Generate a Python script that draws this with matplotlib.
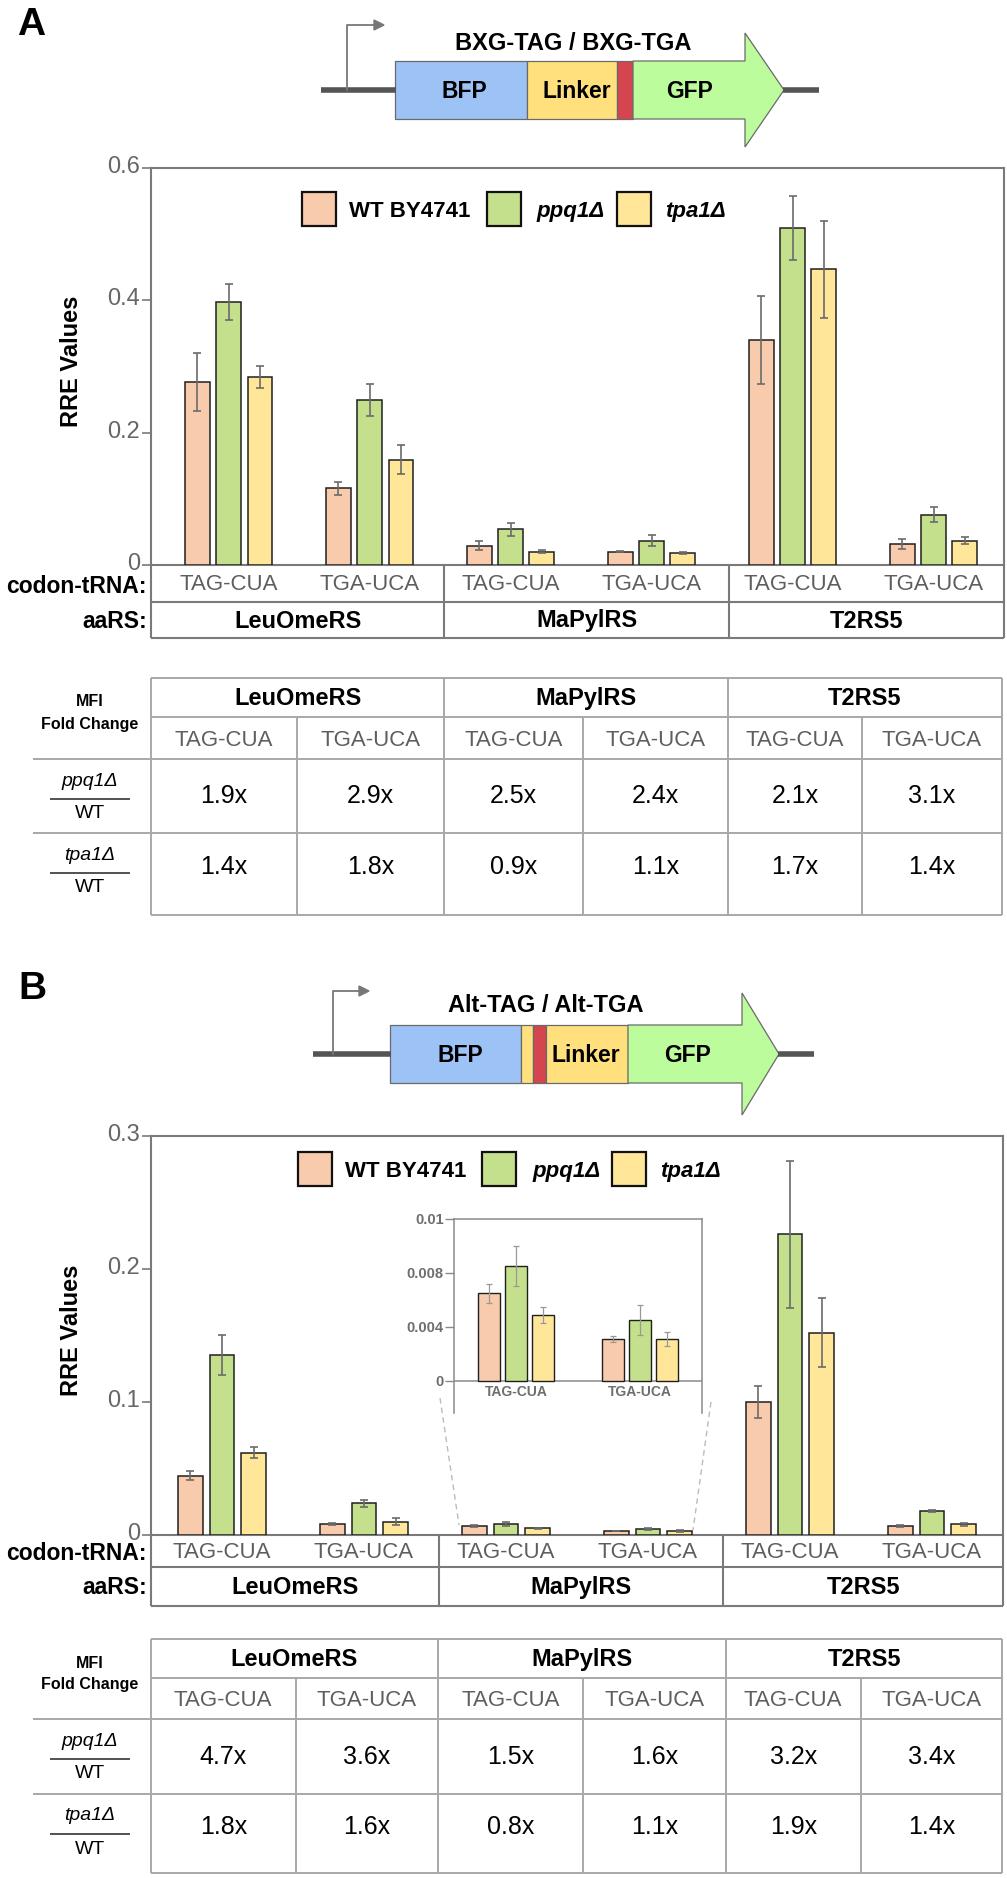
import numpy as np
import matplotlib
matplotlib.use('Agg')
import matplotlib.pyplot as plt
from matplotlib.patches import Rectangle, Polygon
from matplotlib.transforms import blended_transform_factory, ScaledTranslation

plt.rcParams['font.family'] = ['Liberation Sans', 'DejaVu Sans']

strains = ['WT BY4741', 'ppq1Δ', 'tpa1Δ']
colors = ['#F8CBAD', '#C5E08C', '#FFE699']
codons = ['TAG-CUA', 'TGA-UCA', 'TAG-CUA', 'TGA-UCA', 'TAG-CUA', 'TGA-UCA']
synthetases = ['LeuOmeRS', 'MaPylRS', 'T2RS5']

# panel A (BXG-TAG / BXG-TGA) RRE values
a_wt = [0.276, 0.116, 0.029, 0.020, 0.340, 0.032]
a_wt_err = [0.044, 0.010, 0.007, 0.001, 0.066, 0.008]
a_ppq1 = [0.397, 0.249, 0.054, 0.037, 0.509, 0.076]
a_ppq1_err = [0.027, 0.024, 0.010, 0.008, 0.048, 0.011]
a_tpa1 = [0.284, 0.159, 0.020, 0.018, 0.447, 0.037]
a_tpa1_err = [0.017, 0.022, 0.002, 0.002, 0.073, 0.005]

# panel B (Alt-TAG / Alt-TGA) RRE values
b_wt = [0.0446, 0.0083, 0.0065, 0.0031, 0.100, 0.0070]
b_wt_err = [0.0035, 0.0005, 0.0007, 0.00025, 0.012, 0.0008]
b_ppq1 = [0.1355, 0.0238, 0.0085, 0.0045, 0.226, 0.0183]
b_ppq1_err = [0.015, 0.0025, 0.0015, 0.0011, 0.055, 0.0008]
b_tpa1 = [0.062, 0.010, 0.0049, 0.0031, 0.152, 0.0080]
b_tpa1_err = [0.004, 0.0025, 0.0006, 0.0005, 0.026, 0.0010]

# MFI fold change tables
a_fold_ppq1 = [1.9, 2.9, 2.5, 2.4, 2.1, 3.1]
a_fold_tpa1 = [1.4, 1.8, 0.9, 1.1, 1.7, 1.4]
b_fold_ppq1 = [4.7, 3.6, 1.5, 1.6, 3.2, 3.4]
b_fold_tpa1 = [1.8, 1.6, 0.8, 1.1, 1.9, 1.4]

W, H = 1007, 1878
fig = plt.figure(figsize=(W / 100, H / 100), dpi=100)
ov = fig.add_axes([0, 0, 1, 1])
ov.set_xlim(0, W)
ov.set_ylim(H, 0)
ov.axis('off')

FRAME = '#7a7a7a'
GRID = '#a8a8a8'
GRAY_TXT = '#5e5e5e'
lift = ScaledTranslation(0, 0.035, fig.dpi_scale_trans)


def px_axes(x0, y0, x1, y1):
    return fig.add_axes([x0 / W, 1 - y1 / H, (x1 - x0) / W, (y1 - y0) / H])


def hline(x0, x1, y, color=FRAME, lw=1.5):
    ov.plot([x0, x1], [y, y], color=color, lw=lw, solid_capstyle='butt')


def vline(x, y0, y1, color=FRAME, lw=1.5):
    ov.plot([x, x], [y0, y1], color=color, lw=lw, solid_capstyle='butt')


def draw_construct(yc, blocks, gfp, lines, promoter, title, title_pos, labels):
    for x0, x1 in lines:
        hline(x0, x1, yc, color='#555555', lw=4)
    px, ptop, px1 = promoter
    ov.plot([px, px, px1 - 8], [yc, ptop, ptop], color='#777777', lw=1.3)
    ov.add_patch(Polygon([(px1 - 10, ptop - 5), (px1, ptop), (px1 - 10, ptop + 5)],
                         closed=True, color='#777777'))
    half = 29
    for x0, x1, c in blocks:
        ov.add_patch(Rectangle((x0, yc - half), x1 - x0, 2 * half, facecolor=c,
                               edgecolor='#6a6a6a', lw=0.9))
    g0, g1, tip, hh = gfp
    ov.add_patch(Polygon([(g0, yc - half), (g1, yc - half), (g1, yc - hh), (tip, yc),
                          (g1, yc + hh), (g1, yc + half), (g0, yc + half)], closed=True,
                         facecolor='#BDFC9C', edgecolor='#6a6a6a', lw=0.9))
    for x, s in labels:
        ov.text(x, yc + 2, s, fontsize=16.5, fontweight='bold', ha='center', va='center')
    ov.text(title_pos[0], title_pos[1], title, fontsize=17, fontweight='bold',
            ha='center', va='center')


def draw_legend(yc, box_x, text_x):
    for lab, col, bx, tx in zip(strains, colors, box_x, text_x):
        ov.add_patch(Rectangle((bx, yc - 17), 34, 34, facecolor=col, edgecolor='#111111', lw=1.6))
        style = 'normal' if lab.startswith('WT') else 'italic'
        ov.text(tx, yc + 8, lab, fontsize=16, fontweight='bold', fontstyle=style,
                ha='left', va='baseline')


def draw_panel(top, bottom, right, xlim, pitch, width, ymax, ticks, ticklabels, series, errs):
    ax = px_axes(151, top, right, bottom)
    ax.set_facecolor('none')
    x = np.arange(len(codons))
    for k in range(3):
        ax.bar(x + (k - 1) * pitch, series[k], width, yerr=errs[k], color=colors[k],
               edgecolor='#1f1f1f', linewidth=1.1, capsize=3.2, zorder=3,
               error_kw=dict(ecolor='#6b6b6b', elinewidth=1.2, capthick=1.2, zorder=4))
    ax.set_xlim(*xlim)
    ax.set_ylim(0, ymax)
    for s in ax.spines.values():
        s.set_color(FRAME)
        s.set_linewidth(1.5)
    ax.set_xticks([])
    ax.set_yticks(ticks)
    ax.set_yticklabels(ticklabels)
    ax.tick_params(axis='y', direction='out', length=6.5, width=1.2, color=FRAME,
                   labelsize=17, labelcolor='#666666', pad=1.5)
    for lab in ax.get_yticklabels():
        lab.set_transform(lab.get_transform() + lift)
    ov.text(72, (top + bottom) / 2 - 5, 'RRE Values', rotation=90, fontsize=17,
            fontweight='bold', ha='center', va='center')
    return ax


def draw_rows(ax, y0, y1, y2, right, seps):
    tr = blended_transform_factory(ax.transData, ov.transData)
    vline(151, y0, y2)
    vline(right, y0, y2)
    hline(151, right, y1)
    hline(151, right, y2)
    for s in seps:
        ov.plot([s, s], [y0, y2], transform=tr, color=FRAME, lw=1.5)
    for i, c in enumerate(codons):
        ov.text(i, (y0 + y1) / 2 + 1, c, transform=tr, fontsize=16, color=GRAY_TXT,
                ha='center', va='center')
    xl = ax.get_xlim()
    bounds = [xl[0]] + list(seps) + [xl[1]]
    for j, name in enumerate(synthetases):
        ov.text((bounds[j] + bounds[j + 1]) / 2, (y1 + y2) / 2 + 1, name, transform=tr,
                fontsize=17, fontweight='bold', ha='center', va='center')
    ov.text(147, (y0 + y1) / 2 + 3, 'codon-tRNA:', fontsize=16.5, fontweight='bold',
            ha='right', va='center')
    ov.text(147, (y1 + y2) / 2 + 1, 'aaRS:', fontsize=16.5, fontweight='bold',
            ha='right', va='center')


def draw_table(ys, cols, fold_ppq1, fold_tpa1):
    for y in ys:
        hline(cols[0], cols[-1], y, color=GRID, lw=1.4)
    for x in (cols[0], cols[2], cols[4], cols[6]):
        vline(x, ys[0], ys[-1], color=GRID, lw=1.4)
    for x in (cols[1], cols[3], cols[5]):
        vline(x, ys[1], ys[-1], color=GRID, lw=1.4)
    for j, name in enumerate(synthetases):
        ov.text((cols[2 * j] + cols[2 * j + 2]) / 2, (ys[0] + ys[1]) / 2 + 1, name,
                fontsize=17, fontweight='bold', ha='center', va='center')
    for i in range(6):
        xc = (cols[i] + cols[i + 1]) / 2
        ov.text(xc, (ys[1] + ys[2]) / 2 + 2, codons[i], fontsize=16, color=GRAY_TXT,
                ha='center', va='center')
        ov.text(xc, (ys[2] + ys[3]) / 2, f'{fold_ppq1[i]:.1f}x', fontsize=18,
                ha='center', va='center')
        ov.text(xc, ys[3] + 0.42 * (ys[4] - ys[3]), f'{fold_tpa1[i]:.1f}x', fontsize=18,
                ha='center', va='center')
    # row labels on the left
    ov.text(90, ys[0] + 24, 'MFI', fontsize=11.5, fontweight='bold', ha='center', va='center')
    ov.text(90, ys[0] + 46, 'Fold Change', fontsize=11.5, fontweight='bold',
            ha='center', va='center')
    for y, mut in ((ys[2], 'ppq1Δ'), (ys[3], 'tpa1Δ')):
        hline(33, cols[0], y, color=GRID, lw=1.4)
        ov.text(90, y + 22, mut, fontsize=14, fontstyle='italic', ha='center', va='center')
        hline(50, 130, y + 40, color='#333333', lw=1.2)
        ov.text(90, y + 55, 'WT', fontsize=14, ha='center', va='center')


# ---------------- Panel A ----------------
ov.text(17, 35, 'A', fontsize=28, fontweight='bold', va='baseline', ha='left')
draw_construct(90,
               [(395, 527, '#9DC3F6'), (527, 617, '#FFE07D'), (617, 633, '#D4454F')],
               (633, 745, 784, 57), [(321, 396), (783, 819)], (347, 25, 384),
               'BXG-TAG / BXG-TGA', (573, 44),
               [(464, 'BFP'), (577, 'Linker'), (690, 'GFP')])

ax_a = draw_panel(168, 565, 1004, (-0.55, 5.5), 0.223, 0.177, 0.6,
                  [0, 0.2, 0.4, 0.6], ['0', '0.2', '0.4', '0.6'],
                  [a_wt, a_ppq1, a_tpa1], [a_wt_err, a_ppq1_err, a_tpa1_err])
draw_legend(209, [302, 487, 617], [349, 536, 665])
draw_rows(ax_a, 565, 602, 638, 1004, [1.53, 3.55])
draw_table([678, 717, 759, 833, 915], [151, 297, 444, 583, 728, 862, 1002],
           a_fold_ppq1, a_fold_tpa1)

# ---------------- Panel B ----------------
ov.text(18, 999, 'B', fontsize=28, fontweight='bold', va='baseline', ha='left')
draw_construct(1054,
               [(390, 521, '#9DC3F6'), (521, 533, '#FFE07D'), (533, 546, '#D4454F'),
                (546, 628, '#FFE07D')],
               (628, 742, 779, 61), [(313, 391), (778, 814)], (333, 991, 369),
               'Alt-TAG / Alt-TGA', (546, 1006),
               [(460, 'BFP'), (586, 'Linker'), (688, 'GFP')])

ax_b = draw_panel(1136, 1535, 1003, (-0.5, 5.5), 0.222, 0.176, 0.3,
                  [0, 0.1, 0.2, 0.3], ['0', '0.1', '0.2', '0.3'],
                  [b_wt, b_ppq1, b_tpa1], [b_wt_err, b_ppq1_err, b_tpa1_err])
draw_legend(1169, [298, 482, 612], [345, 532, 660])
draw_rows(ax_b, 1535, 1567, 1606, 1003, [1.525, 3.53])
draw_table([1639, 1678, 1719, 1794, 1873], [151, 295.5, 438, 583, 726, 860.5, 1002],
           b_fold_ppq1, b_fold_tpa1)

# inset zooming on the MaPylRS bars
ov.plot([440, 459], [1398, 1525], ls=(0, (4, 3)), color='#bbbbbb', lw=1)
ov.plot([711, 693], [1402, 1530], ls=(0, (4, 3)), color='#bbbbbb', lw=1)

axi = px_axes(454, 1219, 702, 1413)
axi.set_facecolor('none')
xi = np.arange(2)
b_series = [b_wt, b_ppq1, b_tpa1]
b_errs = [b_wt_err, b_ppq1_err, b_tpa1_err]
for k in range(3):
    axi.bar(xi + (k - 1) * 0.218, b_series[k][2:4], 0.177, yerr=b_errs[k][2:4],
            color=colors[k], edgecolor='#1f1f1f', linewidth=1.0, capsize=2, zorder=3,
            error_kw=dict(ecolor='#999999', elinewidth=0.9, capthick=0.9, zorder=4))
axi.set_xlim(-0.5, 1.5)
axi.set_ylim(-0.00239, 0.012)
axi.spines['bottom'].set_visible(False)
for s in ('left', 'top', 'right'):
    axi.spines[s].set_color('#8a8a8a')
    axi.spines[s].set_linewidth(1.1)
axi.axhline(0, color='#8a8a8a', lw=1.1, zorder=2)
axi.set_xticks([])
axi.set_yticks([0, 0.004, 0.008, 0.012])
axi.set_yticklabels(['0', '0.004', '0.008', '0.01'])
axi.tick_params(axis='y', direction='out', length=6.5, width=1, color='#8a8a8a',
                labelsize=10.5, labelcolor='#6e6e6e', pad=1)
for lab in axi.get_yticklabels():
    lab.set_fontweight('bold')
for i, c in enumerate(codons[2:4]):
    axi.text(i, -0.00085, c, fontsize=10, fontweight='bold', color='#6e6e6e',
             ha='center', va='center')

fig.savefig('out.png', dpi=100)
